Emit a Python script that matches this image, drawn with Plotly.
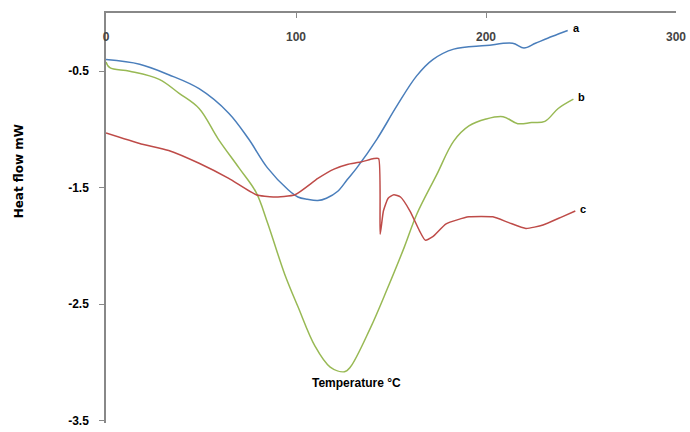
import plotly.graph_objects as go

# Curve a (blue)
a_x = [0, 17.7, 33, 49, 64.6, 75, 85, 96, 101, 106, 111.5, 116, 122, 127, 132, 142.7, 153, 163.5, 172, 183, 200, 214, 220, 226, 235, 243]
a_y = [-0.40, -0.44, -0.53, -0.65, -0.86, -1.08, -1.33, -1.52, -1.58, -1.60, -1.61, -1.59, -1.53, -1.43, -1.33, -1.08, -0.80, -0.54, -0.40, -0.31, -0.28, -0.26, -0.30, -0.26, -0.20, -0.15]

# Curve b (green)
b_x = [0, 2, 12.5, 28, 38.5, 49, 59, 70, 79, 85, 94, 101, 110, 118, 125.5, 128.6, 139, 148, 157, 163.5, 174, 183, 191, 200, 209, 216.7, 224, 231, 238, 246]
b_y = [-0.42, -0.47, -0.50, -0.57, -0.69, -0.82, -1.08, -1.33, -1.54, -1.80, -2.24, -2.52, -2.86, -3.04, -3.08, -3.04, -2.71, -2.37, -2.01, -1.73, -1.39, -1.10, -0.97, -0.91, -0.89, -0.95, -0.94, -0.93, -0.82, -0.74]

# Curve c (red)
c_x = [0, 17.7, 33, 49, 64.6, 79, 88, 99.5, 111.5, 120, 127, 134, 141, 143.5, 144.3, 146, 148.5, 151.5, 155, 160, 165, 168, 172, 179, 191, 203.6, 212, 221, 230, 240, 247]
c_y = [-1.03, -1.12, -1.18, -1.29, -1.42, -1.56, -1.58, -1.56, -1.42, -1.34, -1.30, -1.28, -1.25, -1.25, -1.90, -1.70, -1.59, -1.56, -1.58, -1.70, -1.87, -1.95, -1.92, -1.81, -1.75, -1.75, -1.80, -1.85, -1.82, -1.75, -1.70]

x_ticks = [0, 100, 200, 300]
y_ticks = [-0.5, -1.5, -2.5, -3.5]
curve_labels = ["a", "b", "c"]

FONT = "Liberation Sans Narrow, Arial Narrow, Liberation Sans, Arial"

fig = go.Figure()
fig.add_trace(go.Scatter(x=a_x, y=a_y, mode="lines", line=dict(color="#4a7ebb", width=1.5, shape="spline")))
fig.add_trace(go.Scatter(x=b_x, y=b_y, mode="lines", line=dict(color="#98b954", width=1.5, shape="spline")))
fig.add_trace(go.Scatter(x=c_x, y=c_y, mode="lines", line=dict(color="#be4b48", width=1.5, shape="spline", smoothing=0.5)))

# curve end labels
ends = [(a_x[-1], a_y[-1]), (b_x[-1], b_y[-1]), (c_x[-1], c_y[-1])]
for lab, (ex, ey) in zip(curve_labels, ends):
    fig.add_annotation(x=ex, y=ey, text="<b>" + lab + "</b>", showarrow=False,
                       xanchor="left", xshift=3, yshift=2,
                       font=dict(family=FONT, size=11, color="black"))

fig.add_annotation(x=132, y=-3.18, text="<b>Temperature °C</b>", showarrow=False,
                   font=dict(family=FONT, size=12, color="black"))
fig.add_annotation(x=(18 - 106) / 576, xref="paper", y=-1.36, yref="y",
                   xanchor="center", yanchor="middle",
                   text="<b>Heat flow mW</b>", textangle=-90, showarrow=False,
                   font=dict(family="DejaVu Sans", size=12, color="black"))

fig.update_layout(
    width=690, height=432,
    margin=dict(l=106, r=8, t=13, b=4),
    paper_bgcolor="white", plot_bgcolor="white",
    showlegend=False,
    font=dict(family=FONT, size=12, color="black"),
)
fig.update_xaxes(range=[0, 300], side="top", tickvals=x_ticks,
                 ticktext=["<b>%d</b>" % v for v in x_ticks],
                 ticks="inside", ticklen=5, tickcolor="#888888",
                 ticklabelposition="inside", ticklabeloverflow="allow",
                 ticklabelstandoff=14,
                 showline=True, linecolor="#888888", linewidth=1.5,
                 showgrid=False, zeroline=False)
fig.update_yaxes(range=[-3.52, 0], tickvals=y_ticks,
                 ticktext=["<b>%g</b>" % v for v in y_ticks],
                 ticks="outside", ticklen=5, tickcolor="#888888",
                 ticklabelstandoff=8, ticklabeloverflow="allow",
                 showline=True, linecolor="#888888", linewidth=1.5,
                 showgrid=False, zeroline=False)

fig.write_html("out.html")
